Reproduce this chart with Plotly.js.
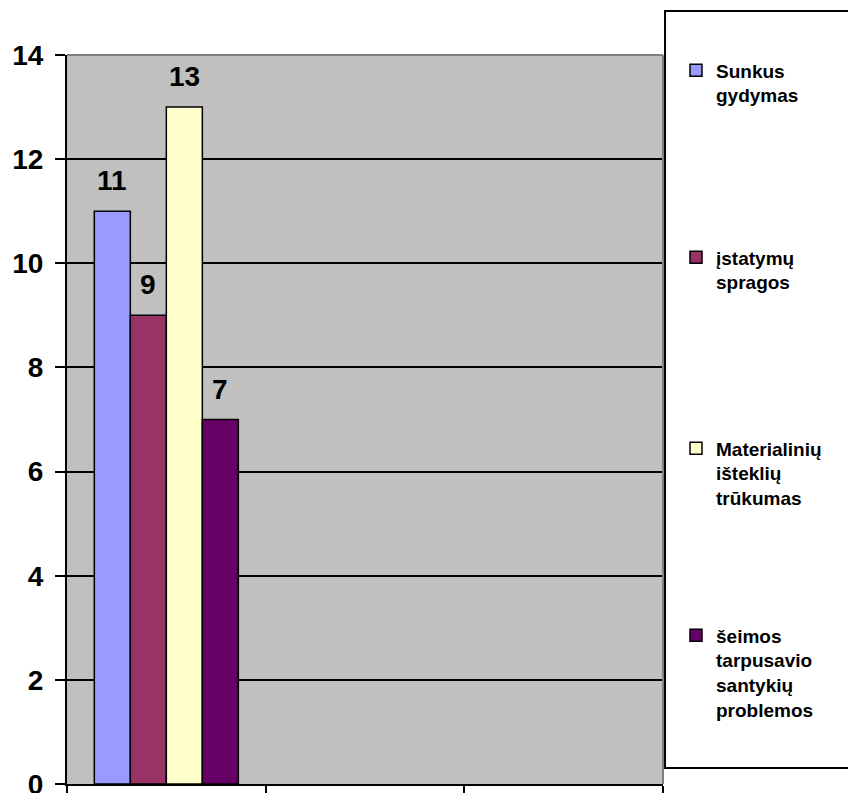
<!DOCTYPE html>
<html>
<head>
<meta charset="utf-8">
<script src="https://cdn.plot.ly/plotly-3.0.1.min.js"></script>
<style>html,body{margin:0;padding:0;background:#fff;}#chart{width:848px;height:793px;}</style>
</head>
<body>
<div id="chart"></div>
<script>
const categories = ['1', '2', '3'];
const seriesNames = [
  'Sunkus<br>gydymas',
  'įstatymų<br>spragos',
  'Materialinių<br>išteklių<br>trūkumas',
  'šeimos<br>tarpusavio<br>santykių<br>problemos'
];
const seriesValues = [[11], [9], [13], [7]];
const seriesColors = ['#9999FF', '#993366', '#FFFFCC', '#660066'];
const yTickVals = [0, 2, 4, 6, 8, 10, 12, 14];

const FONT = 'Arial, "Liberation Sans", sans-serif';
const bargap = 0.275;
const legendIds = ['legend', 'legend2', 'legend3', 'legend4'];
const legendY = [1.005, 0.7485, 0.4865, 0.23];

const traces = seriesNames.map((name, i) => ({
  type: 'bar',
  name: name,
  x: categories.slice(0, seriesValues[i].length),
  y: seriesValues[i],
  marker: {color: seriesColors[i], line: {color: '#000', width: 1.5}},
  legend: legendIds[i],
  hoverinfo: 'none'
}));

const n = seriesNames.length;
const barW = (1 - bargap) / n;
const annotations = [];
seriesValues.forEach((vals, i) => {
  vals.forEach((v, j) => {
    annotations.push({
      x: j + (i - (n - 1) / 2) * barW,
      y: v, xref: 'x', yref: 'y',
      text: String(v), showarrow: false,
      yanchor: 'bottom', yshift: 13,
      font: {family: FONT, size: 28, color: '#000', weight: 'bold'}
    });
  });
});

const layout = {
  width: 848, height: 793,
  margin: {l: 67, r: 185, t: 55, b: 9},
  paper_bgcolor: '#fff',
  plot_bgcolor: '#C0C0C0',
  barmode: 'group',
  bargap: bargap,
  bargroupgap: 0,
  showlegend: true,
  xaxis: {
    type: 'category',
    categoryorder: 'array', categoryarray: categories,
    range: [-0.5, categories.length - 0.5],
    tickson: 'boundaries',
    ticks: 'outside', ticklen: 10, tickwidth: 2, tickcolor: '#000',
    showticklabels: false,
    showgrid: false, zeroline: false,
    showline: true, linecolor: '#000', linewidth: 2,
    fixedrange: true
  },
  yaxis: {
    range: [0, 14],
    tickvals: yTickVals,
    ticks: 'outside', ticklen: 10, tickwidth: 2, tickcolor: '#000',
    ticklabelstandoff: 6,
    ticklabeloverflow: 'allow',
    tickfont: {family: FONT, size: 28, color: '#000', weight: 'bold'},
    showgrid: true, gridcolor: '#000', gridwidth: 2,
    zeroline: false,
    showline: true, linecolor: '#000', linewidth: 2,
    fixedrange: true
  },
  annotations: annotations,
  shapes: [
    {type: 'line', xref: 'paper', yref: 'paper', x0: 0, x1: 1, y0: 1, y1: 1,
     line: {color: '#808080', width: 2}},
    {type: 'line', xref: 'paper', yref: 'paper', x0: 1, x1: 1, y0: 0, y1: 1,
     line: {color: '#808080', width: 2}},
    {type: 'rect', xref: 'paper', yref: 'paper', x0: 1.0034, x1: 1.32, y0: 0.0219, y1: 1.0604,
     line: {color: '#000', width: 2}, fillcolor: 'rgba(0,0,0,0)'}
  ]
};

legendIds.forEach((id, i) => {
  layout[id] = {
    x: 1.0218, y: legendY[i], xanchor: 'left', yanchor: 'top',
    bgcolor: 'rgba(0,0,0,0)', borderwidth: 0,
    valign: 'top',
    font: {family: FONT, size: 19, color: '#000', weight: 'bold'}
  };
});

Plotly.newPlot('chart', traces, layout, {displayModeBar: false, staticPlot: true});
</script>
</body>
</html>
